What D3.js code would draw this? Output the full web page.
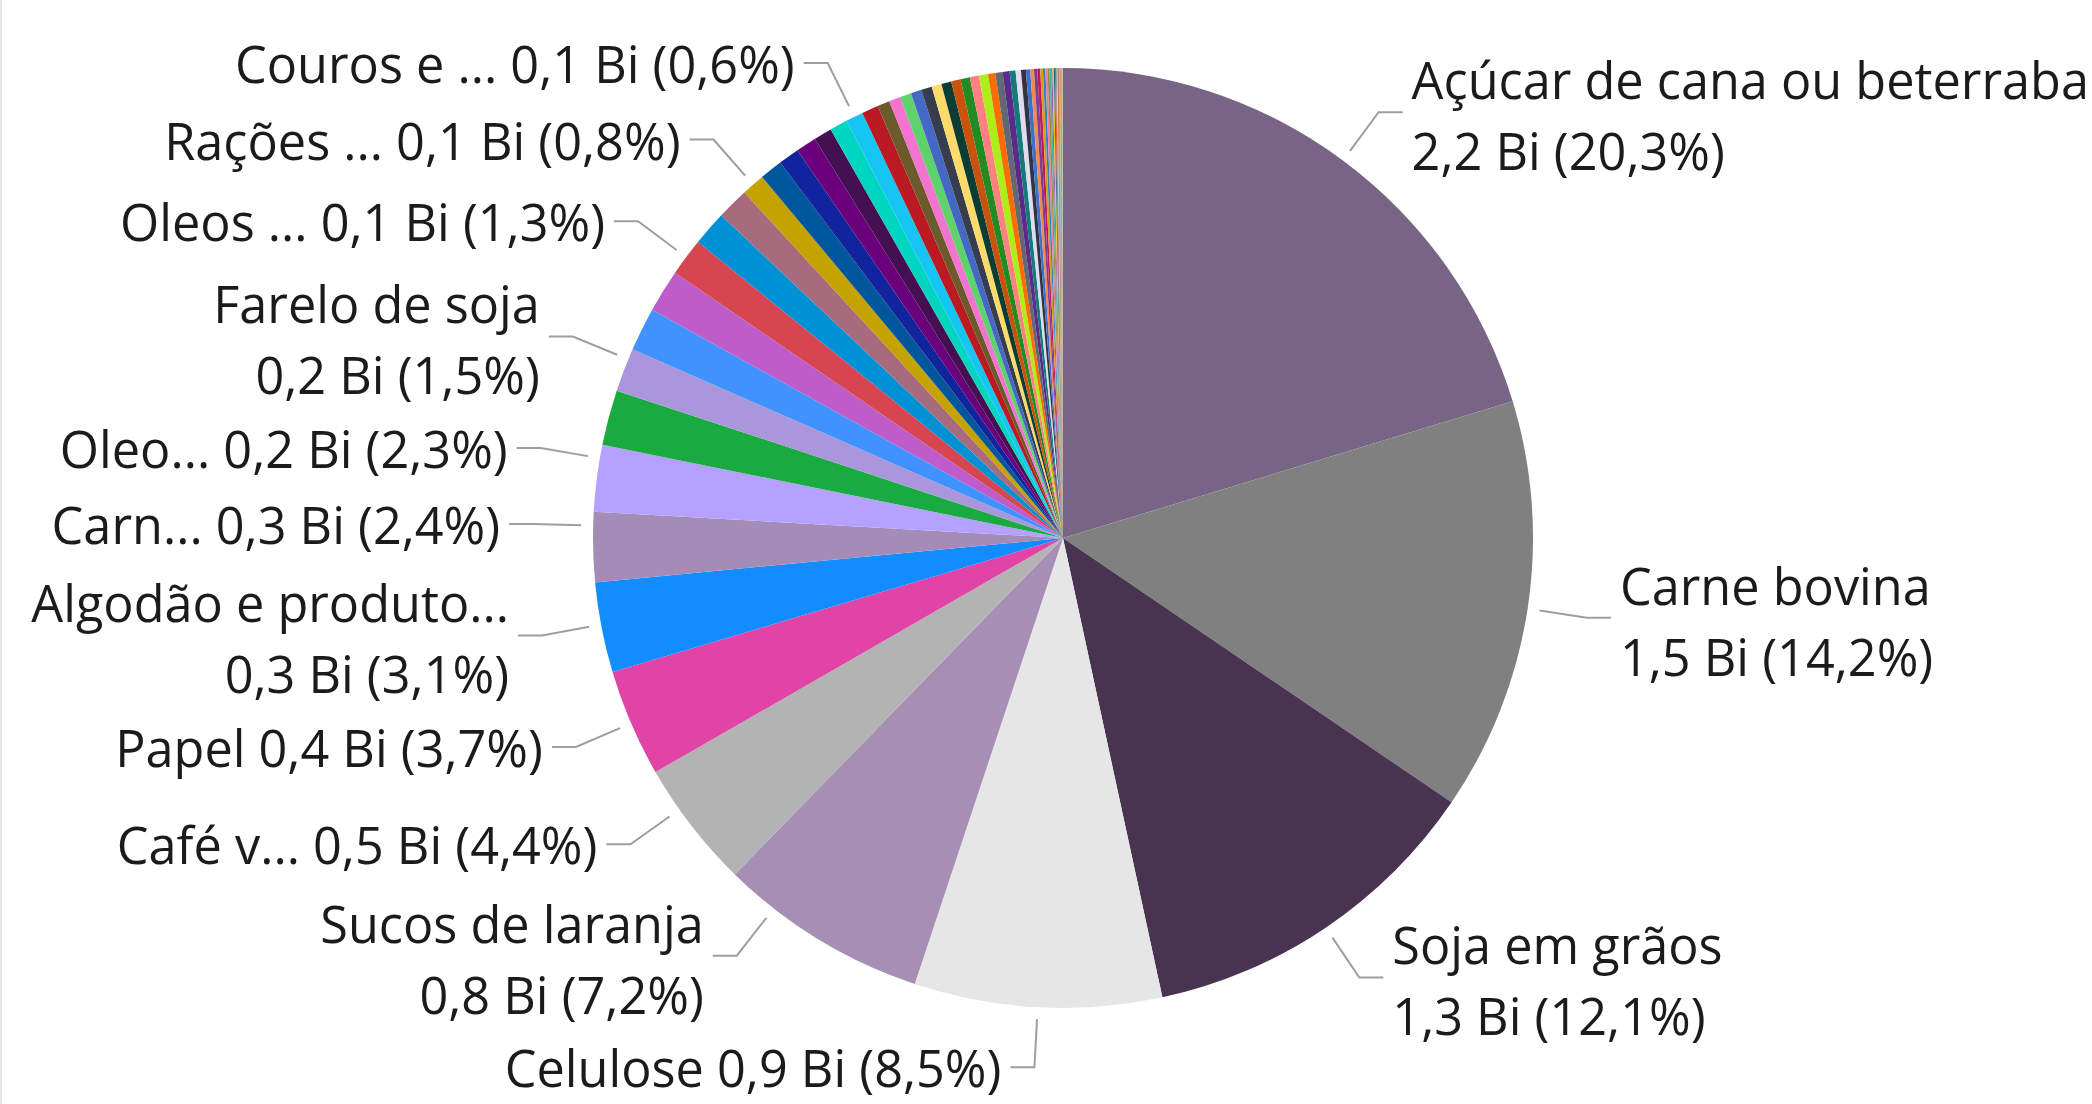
<!DOCTYPE html>
<html>
<head>
<meta charset="utf-8">
<script src="https://cdn.jsdelivr.net/npm/d3@7/dist/d3.min.js"></script>
<style>
  html, body { margin: 0; padding: 0; background: #fff; overflow: hidden; }
  svg { display: block; }
  .lbl { font-family: "Open Sans", "Noto Sans", sans-serif; fill: #1b1b1b; }
</style>
</head>
<body>
<svg id="chart" width="2092" height="1104"></svg>
<script>
// products, sorted by export value (US$ millions)
const categories = [
  "Açúcar de cana ou beterraba", "Carne bovina", "Soja em grãos", "Celulose",
  "Sucos de laranja", "Café verde", "Papel", "Algodão e produtos têxteis",
  "Carnes de frango", "Oleo de soja", "Produto 11", "Farelo de soja",
  "Produto 13", "Produto 14", "Oleos essenciais", "Produto 16", "Produto 17",
  "Rações para animais", "Produto 19", "Produto 20", "Produto 21", "Produto 22",
  "Produto 23", "Couros e peleteria", "Produto 25", "Produto 26", "Produto 27",
  "Produto 28", "Produto 29", "Produto 30", "Produto 31", "Produto 32",
  "Produto 33", "Produto 34", "Produto 35", "Produto 36", "Produto 37",
  "Produto 38", "Produto 39",
  "Produto 40", "Produto 41", "Produto 42", "Produto 43", "Produto 44",
  "Produto 45", "Produto 46", "Produto 47", "Produto 48", "Produto 49",
  "Produto 50", "Produto 51", "Produto 52", "Produto 53", "Produto 54",
  "Produto 55", "Produto 56", "Produto 57", "Produto 58", "Produto 59",
  "Produto 60", "Produto 61", "Produto 62", "Produto 63", "Produto 64",
  "Produto 65", "Produto 66", "Produto 67", "Produto 68", "Produto 69",
  "Produto 70", "Produto 71", "Produto 72", "Produto 73"
];

const values = [
  2203, 1541, 1313, 922, 781, 477, 401, 336, 260, 248, 206, 163,
  162, 160, 141, 130, 119, 87, 85, 78, 76, 68, 66, 65,
  62, 46, 43, 42, 40, 40, 37, 37, 35, 35, 34, 34, 27, 27, 26,
  22, 20, 18, 16, 14, 12, 11, 10, 9, 8, 7, 6, 5, 5, 4, 4, 3, 3, 3,
  2, 2, 2, 2, 1.5, 1.5, 1, 1, 1, 0.8, 0.6, 0.5, 0.4, 0.3, 0.2
];

const colors = [
  "#786586", "#808080", "#483450", "#E6E6E6", "#A68EB5", "#B3B3B3", "#E044A7",
  "#118DFF", "#A58BB7", "#B5A1FF", "#1AAB40", "#AA96DA", "#4092FF", "#BE5DC9",
  "#D64550", "#0091D5", "#A66B7C", "#C4A200", "#01579B", "#12239E", "#6B007B",
  "#451052", "#00D6BF", "#15C6F4", "#BA1A22", "#6B5A2A", "#F472D0", "#5ED36B",
  "#4668C5", "#363D4D", "#FDDB6A", "#0B3D35", "#C9520D", "#228B22", "#FF8080",
  "#ADEE1A", "#FF6D00", "#636972", "#5A2B8B",
  "#157A7A", "#E0DCEE", "#2F3440", "#3F6FCB", "#F08A4B", "#7D3C98", "#C2185B",
  "#D4A017", "#2E86C1", "#EC7EA4", "#8E8E38", "#45B39D", "#9B59B6", "#F1C40F",
  "#1F618D", "#E74C3C", "#7F8C8D", "#A3E4D7", "#D35400", "#5D6D7E", "#AF7AC5",
  "#48C9B0", "#F5B041", "#CB4335", "#2874A6", "#B9770E", "#7DCEA0", "#E59866",
  "#85929E", "#BB8FCE", "#F7DC6F", "#76D7C4", "#DC7633", "#5499C7", "#C39BD3"
];

// text shown in the data labels ("" = no label)
const labelNames = [
  "Açúcar de cana ou beterraba", "Carne bovina", "Soja em grãos", "Celulose",
  "Sucos de laranja", "Café v...", "Papel", "Algodão e produto...",
  "Carn...", "Oleo...", "", "Farelo de soja", "", "", "Oleos ...", "", "",
  "Rações ...", "", "", "", "", "", "Couros e ..."
];

// labels where the name sits on its own line
const twoLine = [
  "Açúcar de cana ou beterraba", "Carne bovina", "Soja em grãos",
  "Sucos de laranja", "Algodão e produto...", "Farelo de soja"
];

const W = 2092, H = 1104;
const cx = 1063, cy = 538, r = 470;
const fontSize = 52, lineH = 71, pad = 5, squeeze = 0.97;
const rStart = r + 12, rElbow = r + 60;

const svg = d3.select("#chart");

// thin grey border on the left edge
svg.append("rect").attr("x", 0).attr("y", 0).attr("width", 2).attr("height", H).attr("fill", "#E6E6E6");

const data = categories.map((c, i) => ({ name: c, value: values[i], color: colors[i], label: labelNames[i] || "" }));
const total = d3.sum(data, d => d.value);

const pie = d3.pie().sort(null).value(d => d.value);
const arcs = pie(data);
const arc = d3.arc().innerRadius(0).outerRadius(r);

const g = svg.append("g").attr("transform", `translate(${cx},${cy})`);
g.selectAll("path.slice")
  .data(arcs)
  .join("path")
  .attr("class", "slice")
  .attr("d", arc)
  .attr("fill", d => d.data.color);

// number formats in pt-BR
const ptBR = d3.formatLocale({ decimal: ",", thousands: ".", grouping: [3], currency: ["R$", ""] });
const f1 = ptBR.format(".1f");
const valueText = d => `${f1(d.data.value / 1000)} Bi (${f1(d.data.value / total * 100)}%)`;

// label layout: natural position on a circle, then push up from the bottom
const labeled = arcs.filter(d => d.data.label);
labeled.forEach(d => {
  d.mid = (d.startAngle + d.endAngle) / 2;
  d.side = Math.sin(d.mid) >= 0 ? 1 : -1;
  d.lines = twoLine.includes(d.data.label) ? 2 : 1;
  d.h = d.lines * lineH;
  d.ly = cy - rElbow * Math.cos(d.mid);
});

[1, -1].forEach(side => {
  const grp = labeled.filter(d => d.side === side).sort((a, b) => b.ly - a.ly);
  for (let i = 0; i < grp.length; i++) {
    if (i === 0) { grp[i].ly = Math.min(grp[i].ly, H - grp[i].h / 2); continue; }
    const lim = grp[i - 1].ly - (grp[i - 1].h + grp[i].h) / 2 - pad;
    if (grp[i].ly > lim) grp[i].ly = lim;
  }
  // if the top one went out of the picture, push back down
  for (let i = grp.length - 1; i >= 0; i--) {
    if (i === grp.length - 1) { grp[i].ly = Math.max(grp[i].ly, grp[i].h / 2); continue; }
    const lim = grp[i + 1].ly + (grp[i + 1].h + grp[i].h) / 2 + pad;
    if (grp[i].ly < lim) grp[i].ly = lim;
  }
});

const lg = svg.append("g");
labeled.forEach(d => {
  let dy = d.ly - cy;
  dy = Math.max(-rElbow, Math.min(rElbow, dy));
  const ex = cx + d.side * Math.sqrt(rElbow * rElbow - dy * dy);
  const ux = (ex - cx) / rElbow, uy = dy / rElbow;
  const sx = cx + ux * rStart, sy = cy + uy * rStart;
  const hx = ex + d.side * 24;

  lg.append("path")
    .attr("d", d3.line()([[sx, sy], [ex, d.ly], [hx, d.ly]]))
    .attr("fill", "none")
    .attr("stroke", "#9E9E9E")
    .attr("stroke-width", 2);

  const tx = ex + d.side * 33;
  const t = lg.append("text")
    .attr("class", "lbl")
    .attr("font-size", fontSize)
    .attr("transform", `translate(${tx},0) scale(${squeeze},1)`)
    .attr("text-anchor", d.side > 0 ? "start" : "end");
  if (d.lines === 2) {
    t.append("tspan").attr("x", 0).attr("y", d.ly - 13).text(d.data.label);
    t.append("tspan").attr("x", 0).attr("y", d.ly + 58).text(valueText(d));
  } else {
    t.append("tspan").attr("x", 0).attr("y", d.ly + 20).text(`${d.data.label} ${valueText(d)}`);
  }
});
</script>
</body>
</html>
